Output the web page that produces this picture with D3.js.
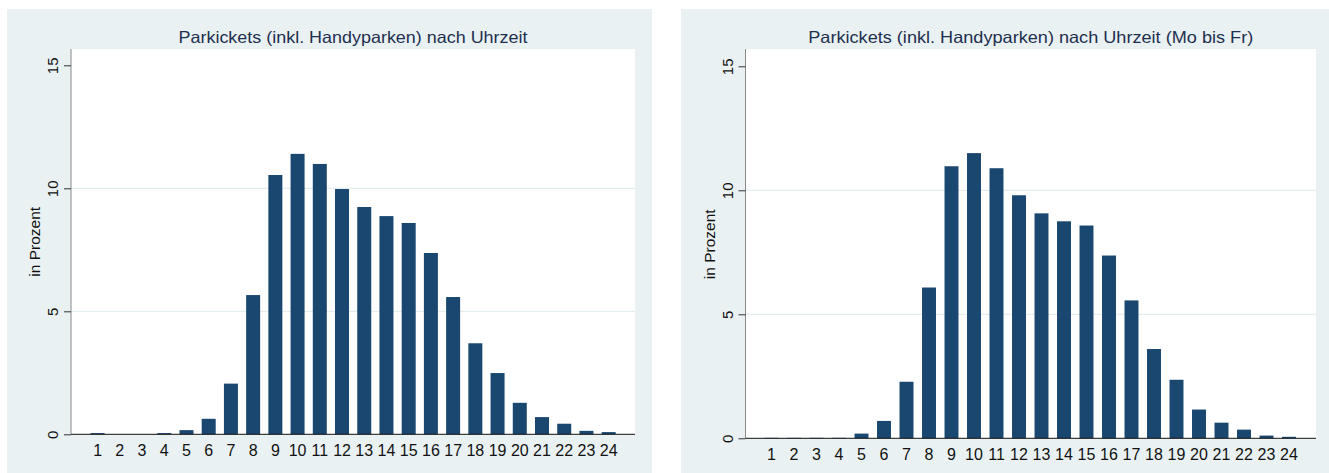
<!DOCTYPE html>
<html>
<head>
<meta charset="utf-8">
<script src="https://cdn.jsdelivr.net/npm/d3@7/dist/d3.min.js"></script>
<style>
  html, body { margin: 0; padding: 0; background: #ffffff; }
  svg { display: block; }
  text { font-family: Arial, "Liberation Sans", Helvetica, sans-serif; }
</style>
</head>
<body>
<svg id="chart" width="1329" height="473"></svg>
<script>
// ---- data ----
const hours = ["1","2","3","4","5","6","7","8","9","10","11","12","13","14","15","16","17","18","19","20","21","22","23","24"];
const valuesAll = [0.05, 0, 0, 0.05, 0.17, 0.63, 2.06, 5.66, 10.54, 11.40, 10.99, 9.97, 9.24, 8.87, 8.59, 7.37, 5.58, 3.70, 2.49, 1.28, 0.70, 0.43, 0.14, 0.09];
const valuesWeekday = [0.02, 0.02, 0.02, 0.02, 0.19, 0.70, 2.28, 6.08, 10.97, 11.50, 10.89, 9.80, 9.07, 8.75, 8.58, 7.37, 5.56, 3.60, 2.36, 1.16, 0.63, 0.35, 0.11, 0.06];
const yTicks = [0, 5, 10, 15];
const gridTicks = [5, 10];
const titles = ["Parkickets (inkl. Handyparken) nach Uhrzeit", "Parkickets (inkl. Handyparken) nach Uhrzeit (Mo bis Fr)"];
const yTitle = "in Prozent";

const svg = d3.select("#chart");
const BG = "#e9f1f3";
const BAR = "#1a476f";

function panel(cfg, values, title) {
  const g = svg.append("g");
  g.append("rect").attr("x", cfg.px0).attr("y", cfg.py0)
    .attr("width", cfg.px1 - cfg.px0).attr("height", cfg.py1 - cfg.py0).attr("fill", BG);
  g.append("rect").attr("x", cfg.x0).attr("y", cfg.top)
    .attr("width", cfg.x1 - cfg.x0).attr("height", cfg.y0 - cfg.top).attr("fill", "#ffffff");

  const y = d3.scaleLinear().domain([0, 15]).range([cfg.y0, cfg.y15]);
  const x = d3.scaleBand().domain(hours).range([cfg.c1 - cfg.step / 2, cfg.c1 + cfg.step * 23.5]).paddingInner(cfg.pad).paddingOuter(cfg.pad / 2);

  // gridlines
  g.append("g").selectAll("line").data(gridTicks).join("line")
    .attr("x1", cfg.x0).attr("x2", cfg.x1)
    .attr("y1", d => y(d)).attr("y2", d => y(d))
    .attr("stroke", "#e4edf0").attr("stroke-width", 1.2);

  // bars
  g.append("g").selectAll("rect").data(values).join("rect")
    .attr("x", (d, i) => x(hours[i]))
    .attr("width", x.bandwidth())
    .attr("y", d => y(d))
    .attr("height", d => cfg.y0 - y(d))
    .attr("fill", BAR);

  // y axis
  const ya = d3.axisLeft(y).tickValues(yTicks).tickSize(7).tickFormat(d3.format("d"));
  const yg = g.append("g").attr("transform", `translate(${cfg.x0},0)`).call(ya);
  yg.select(".domain").attr("stroke", "#8a8a8a").attr("d", `M0,${cfg.top}V${cfg.y0}`);
  yg.selectAll(".tick line").attr("stroke", "#333");
  yg.selectAll(".tick text")
    .attr("x", 0).attr("dy", 0)
    .attr("transform", "translate(-13,0) rotate(-90)")
    .attr("text-anchor", "middle")
    .attr("font-size", 15).attr("fill", "#111");

  // x axis
  const xa = d3.axisBottom(x).tickSize(0).tickPadding(0);
  const xg = g.append("g").attr("transform", `translate(0,${cfg.y0})`).call(xa);
  xg.select(".domain").attr("stroke", "#111").attr("d", `M${cfg.x0},0H${cfg.x1}`);
  xg.selectAll(".tick text").attr("dy", 0).attr("y", 22)
    .attr("font-size", 16).attr("fill", "#111");

  // titles
  g.append("text").attr("x", (cfg.x0 + cfg.x1) / 2).attr("y", 43)
    .attr("text-anchor", "middle").attr("font-size", 16.5).attr("fill", "#1e2f4f")
    .attr("textLength", cfg.titleLen).attr("lengthAdjust", "spacingAndGlyphs")
    .text(title);
  g.append("text")
    .attr("transform", `translate(${cfg.x0 - 31},${(cfg.y15 + cfg.y0) / 2 - 8}) rotate(-90)`)
    .attr("text-anchor", "middle").attr("font-size", 15.5).attr("fill", "#111")
    .text(yTitle);
}

panel({px0: 7, px1: 652, py0: 9, py1: 473, x0: 71, x1: 635, top: 49, y0: 434.3, y15: 65.3, c1: 97.6, step: 22.22, pad: 0.37, titleLen: 349}, valuesAll, titles[0]);
panel({px0: 681, px1: 1329, py0: 9, py1: 473, x0: 745.5, x1: 1316, top: 49, y0: 438.3, y15: 66.3, c1: 771.5, step: 22.5, pad: 0.38, titleLen: 445}, valuesWeekday, titles[1]);
</script>
</body>
</html>
